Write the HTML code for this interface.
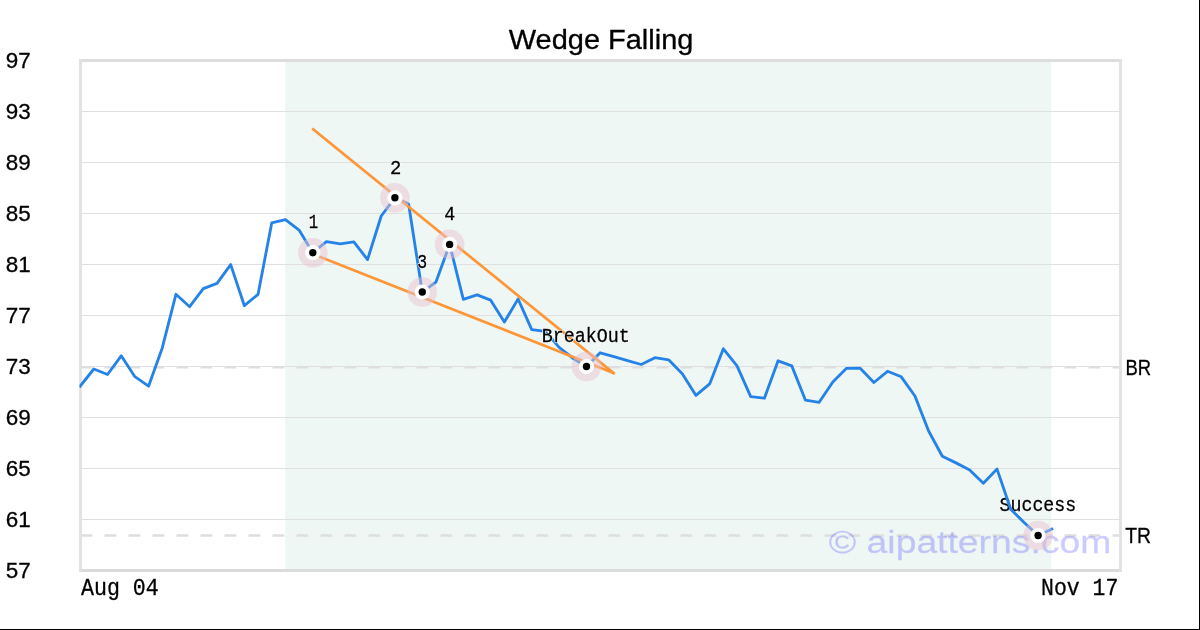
<!DOCTYPE html>
<html><head><meta charset="utf-8"><style>
html,body{margin:0;padding:0;background:#fff;}
body{width:1200px;height:630px;overflow:hidden;position:relative;}
svg{position:absolute;left:0;top:0;display:block;will-change:transform;}
text{font-family:"Liberation Sans",sans-serif;fill:#000;}
.b text,text.b{stroke:#000;stroke-width:0.3px;}
.m,.m text{font-family:"Liberation Mono",monospace;}
</style></head><body>
<svg width="1200" height="630" viewBox="0 0 1200 630">
<defs><clipPath id="ax"><rect x="80.5" y="60.5" width="1040.0" height="510.0"/></clipPath><clipPath id="ax2"><rect x="79.4" y="60.5" width="1041.1" height="510.0"/></clipPath></defs>
<rect x="0" y="0" width="1200" height="630" fill="#fff"/>
<g clip-path="url(#ax)">
<rect x="285.3" y="60.5" width="766.1" height="510.0" fill="#eff7f4"/>
<g stroke="#e0e0e0" stroke-width="1.1"><line x1="80.5" x2="1120.5" y1="111.5" y2="111.5"/><line x1="80.5" x2="1120.5" y1="162.5" y2="162.5"/><line x1="80.5" x2="1120.5" y1="213.5" y2="213.5"/><line x1="80.5" x2="1120.5" y1="264.5" y2="264.5"/><line x1="80.5" x2="1120.5" y1="315.5" y2="315.5"/><line x1="80.5" x2="1120.5" y1="366.5" y2="366.5"/><line x1="80.5" x2="1120.5" y1="417.5" y2="417.5"/><line x1="80.5" x2="1120.5" y1="468.5" y2="468.5"/><line x1="80.5" x2="1120.5" y1="519.5" y2="519.5"/></g>
<g stroke="#dedede" stroke-width="2.5" stroke-dasharray="11.8 12.2">
<line x1="80.5" x2="1120.5" y1="367.3" y2="367.3"/>
<line x1="80.5" x2="1120.5" y1="535.6" y2="535.6"/>
</g>
</g>
<g stroke-width="2.8">
<line x1="79.1" x2="1121.9" y1="60.5" y2="60.5" stroke="#dddddd"/>
<line x1="79.1" x2="1121.9" y1="570.5" y2="570.5" stroke="#dbdbdb"/>
<line x1="80.5" x2="80.5" y1="59.1" y2="571.9" stroke="#e1e1e1"/>
<line x1="1120.5" x2="1120.5" y1="59.1" y2="571.9" stroke="#e1e1e1"/>
</g>
<g class="m" font-size="20" style="fill:#fff;stroke:#fff;stroke-width:1.6px;stroke-linejoin:round"><text x="999.6" y="510.9" textLength="76.6" lengthAdjust="spacingAndGlyphs">Success</text></g><g class="m b" font-size="20"><text x="999.6" y="510.9" textLength="76.6" lengthAdjust="spacingAndGlyphs">Success</text></g>
<polyline clip-path="url(#ax2)" points="80.15,386.2 93.84,369 107.52,374.5 121.21,355.8 134.89,376.7 148.57,386.2 162.26,347.9 175.94,294.3 189.63,306.7 203.31,288.7 217,283.4 230.69,264.6 244.37,305.7 258.06,294.3 271.74,222.9 285.43,219.6 299.11,230.1 312.8,252.7 326.48,241.6 340.16,243.9 353.85,241.9 367.53,259.6 381.22,216 394.9,197.8 408.59,204 422.27,292 435.96,282.1 449.64,244.4 463.33,299.3 477.01,294.8 490.7,300.2 504.38,322.1 518.07,299 531.75,329.7 545.44,331.4 559.12,347.4 572.81,358.2 586.5,366.5 600.18,352.8 613.87,356.7 627.55,360.6 641.24,364.5 654.92,357.7 668.61,359.8 682.29,373.8 695.98,395.4 709.66,383.9 723.35,348.8 737.03,365.9 750.72,396.6 764.4,398.2 778.09,360.8 791.77,365.9 805.46,400.2 819.14,402.3 832.83,382 846.51,368.3 860.2,368.2 873.88,382.5 887.57,371.3 901.25,376.8 914.94,396 928.62,431 942.31,456.2 955.99,462.9 969.67,469.9 983.36,483.3 997.04,469.1 1010.73,509.3 1024.41,522.8 1038.1,535.5 1051.79,529.1" fill="none" stroke="#2583e8" stroke-width="2.85" stroke-linejoin="round" stroke-linecap="square"/>
<g class="m" font-size="20.8" style="fill:#fff;stroke:#fff;stroke-width:1.6px;stroke-linejoin:round"><text x="308.8" y="227.9" textLength="9.42" lengthAdjust="spacingAndGlyphs">1</text><text x="389.9" y="173.8" textLength="11.36" lengthAdjust="spacingAndGlyphs">2</text><text x="417.3" y="267.5" textLength="9.87" lengthAdjust="spacingAndGlyphs">3</text><text x="444.3" y="219.8" textLength="11.01" lengthAdjust="spacingAndGlyphs">4</text></g><g class="m b" font-size="20.8"><text x="308.8" y="227.9" textLength="9.42" lengthAdjust="spacingAndGlyphs">1</text><text x="389.9" y="173.8" textLength="11.36" lengthAdjust="spacingAndGlyphs">2</text><text x="417.3" y="267.5" textLength="9.87" lengthAdjust="spacingAndGlyphs">3</text><text x="444.3" y="219.8" textLength="11.01" lengthAdjust="spacingAndGlyphs">4</text></g>
<g stroke="#fc9638" stroke-width="2.7" stroke-linecap="square">
<line x1="313.2" y1="129.4" x2="613.5" y2="373"/>
<line x1="312.7" y1="254" x2="613.5" y2="373"/>
</g>
<g class="m" font-size="20" style="fill:#fff;stroke:#fff;stroke-width:1.6px;stroke-linejoin:round"><text x="541.8" y="341.5" textLength="88" lengthAdjust="spacingAndGlyphs">BreakOut</text></g><g class="m b" font-size="20"><text x="541.8" y="341.5" textLength="88" lengthAdjust="spacingAndGlyphs">BreakOut</text></g>
<text x="828.75" y="552.75" font-size="31.5" textLength="282.5" lengthAdjust="spacingAndGlyphs" opacity="0.2" style="fill:#00f;stroke:#00f;stroke-width:0.3px">© aipatterns.com</text>
<g fill="rgba(233,192,206,0.48)"><circle cx="312.8" cy="252.7" r="14.8"/><circle cx="394.9" cy="197.8" r="14.8"/><circle cx="422.27" cy="292" r="14.8"/><circle cx="449.64" cy="244.4" r="14.8"/><circle cx="586.5" cy="366.5" r="14.8"/><circle cx="1038.1" cy="535.5" r="14.8"/></g>
<g fill="#fff"><circle cx="312.8" cy="252.7" r="7.6"/><circle cx="394.9" cy="197.8" r="7.6"/><circle cx="422.27" cy="292" r="7.6"/><circle cx="449.64" cy="244.4" r="7.6"/><circle cx="586.5" cy="366.5" r="7.6"/><circle cx="1038.1" cy="535.5" r="7.6"/></g>
<g fill="#000"><circle cx="312.8" cy="252.7" r="3.7"/><circle cx="394.9" cy="197.8" r="3.7"/><circle cx="422.27" cy="292" r="3.7"/><circle cx="449.64" cy="244.4" r="3.7"/><circle cx="586.5" cy="366.5" r="3.7"/><circle cx="1038.1" cy="535.5" r="3.7"/></g>
<g class="b" font-size="22.9"><text x="5.7" y="68.4" textLength="24.96" lengthAdjust="spacingAndGlyphs">97</text><text x="5.7" y="119.4" textLength="24.96" lengthAdjust="spacingAndGlyphs">93</text><text x="5.7" y="170.4" textLength="24.96" lengthAdjust="spacingAndGlyphs">89</text><text x="5.7" y="221.4" textLength="24.96" lengthAdjust="spacingAndGlyphs">85</text><text x="5.7" y="272.4" textLength="24.96" lengthAdjust="spacingAndGlyphs">81</text><text x="5.7" y="323.4" textLength="24.96" lengthAdjust="spacingAndGlyphs">77</text><text x="5.7" y="374.4" textLength="24.96" lengthAdjust="spacingAndGlyphs">73</text><text x="5.7" y="425.4" textLength="24.96" lengthAdjust="spacingAndGlyphs">69</text><text x="5.7" y="476.4" textLength="24.96" lengthAdjust="spacingAndGlyphs">65</text><text x="5.7" y="527.4" textLength="24.96" lengthAdjust="spacingAndGlyphs">61</text><text x="5.7" y="578.4" textLength="24.96" lengthAdjust="spacingAndGlyphs">57</text></g>
<text class="b" x="508.8" y="49" font-size="26.8" textLength="184.58" lengthAdjust="spacingAndGlyphs">Wedge Falling</text>
<g class="m b" font-size="24.6">
<text x="81" y="595" textLength="77.78" lengthAdjust="spacingAndGlyphs">Aug 04</text>
<text x="1041.1" y="594.8" textLength="77.19" lengthAdjust="spacingAndGlyphs">Nov 17</text>
</g>
<g class="b" font-size="22.1">
<text x="1125.4" y="374.7" textLength="25.66" lengthAdjust="spacingAndGlyphs">BR</text>
<text x="1125.3" y="542.7" textLength="25.74" lengthAdjust="spacingAndGlyphs">TR</text>
</g>
<line x1="0" y1="629.5" x2="1200" y2="629.5" stroke="#000" stroke-width="1"/>
<line x1="1199.5" y1="0" x2="1199.5" y2="630" stroke="#000" stroke-width="1"/>
</svg>
</body></html>
